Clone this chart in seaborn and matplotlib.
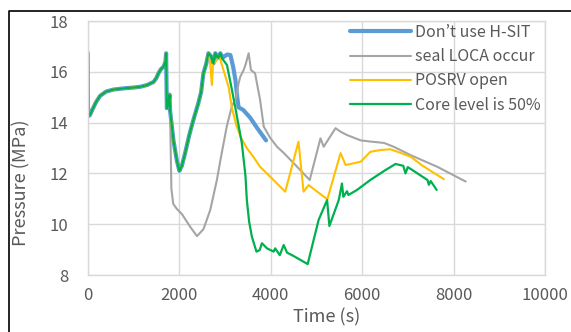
import numpy as np
import pandas as pd
import matplotlib
matplotlib.use("Agg")
import matplotlib.pyplot as plt
from matplotlib.lines import Line2D
import seaborn as sns

# Shared start-up transient (identical for every case)
common_t = [0, 5, 20, 50, 100, 180, 270, 400, 560, 800, 1000, 1150, 1300, 1440, 1500,
            1550, 1600, 1660, 1700, 1715, 1730, 1760, 1790, 1800]
common_p = [16.75, 14.6, 14.26, 14.3, 14.5, 14.8, 15.05, 15.22, 15.3, 15.35, 15.38, 15.41, 15.48, 15.6, 15.75,
            15.95, 16.1, 16.2, 16.4, 16.73, 14.57, 14.7, 15.1, 14.5]

# Re-pressurisation shared by the three non-LOCA cases
rise_t = [1875, 1950, 2005, 2060, 2130, 2220, 2310, 2420, 2480, 2530, 2590, 2640]
rise_p = [13.3, 12.5, 12.1, 12.3, 12.8, 13.5, 14.1, 14.77, 15.2, 15.94, 16.3, 16.73]

peak_t = [2700, 2750, 2790, 2830, 2860, 2900]
peak_p = [16.6, 16.33, 16.73, 16.6, 16.55, 16.73]

# Case-specific continuations
hsit_t = [2950, 3000, 3050, 3120, 3180, 3230, 3270, 3300, 3400, 3550, 3700, 3900]
hsit_p = [16.55, 16.62, 16.68, 16.66, 16.2, 15.68, 15.0, 14.6, 14.5, 14.2, 13.8, 13.3]

loca_t = [1830, 1870, 1950, 2060, 2240, 2390, 2530, 2680, 2825, 2900, 3040, 3150, 3250, 3300,
          3335, 3410, 3450, 3520, 3570, 3660, 3770, 3850, 3990, 4140, 4290, 4580, 4855, 5090,
          5160, 5420, 5530, 5670, 5970, 6200, 6480, 6690, 7060, 7645, 8265]
loca_p = [11.4, 10.8, 10.6, 10.4, 9.9, 9.53, 9.8, 10.56, 11.74, 12.5, 13.84, 14.63, 15.0, 15.55,
          15.8, 16.07, 16.27, 16.73, 16.07, 15.94, 14.89, 13.84, 13.4, 13.05, 12.8, 12.26, 11.74, 13.38,
          13.05, 13.78, 13.64, 13.51, 13.3, 13.25, 13.2, 13.05, 12.72, 12.26, 11.68]

posrv_t = [2680, 2715, 2740, 2800, 2880, 2935, 3080, 3155, 3250, 3340, 3480, 3620, 3770, 3990, 4320,
           4610, 4720, 4830, 5240, 5530, 5640, 5970, 6180, 6400, 6620, 6850, 7060, 7300, 7500, 7790]
posrv_p = [16.3, 15.48, 16.3, 16.4, 16.6, 16.27, 15.41, 14.57, 13.9, 13.45, 12.99, 12.66, 12.26, 11.87, 11.28,
           13.25, 11.28, 11.54, 10.98, 12.8, 12.33, 12.46, 12.85, 12.92, 12.95, 12.8, 12.66, 12.33, 12.1, 11.77]

core_t = [2950, 3045, 3155, 3230, 3370, 3450, 3480, 3530, 3590, 3690, 3760, 3810, 3920, 4065, 4100,
          4200, 4285, 4360, 4500, 4810, 5050, 5235, 5285, 5490, 5560, 5590, 5670, 5700, 5890, 6180, 6510,
          6730, 6900, 6950, 7000, 7430, 7460, 7500, 7630]
core_p = [16.5, 16.27, 15.28, 14.57, 13.2, 11.9, 10.95, 10.1, 9.51, 8.92, 8.98, 9.25, 9.05, 8.92, 9.05,
          8.78, 9.18, 8.88, 8.75, 8.43, 10.17, 10.95, 9.93, 10.95, 11.6, 11.08, 11.3, 11.15, 11.35, 11.74, 12.13,
          12.37, 12.3, 12.0, 12.25, 11.74, 11.55, 11.7, 11.35]

labels = ["Don\u2019t use H-SIT", "seal LOCA occur", "POSRV open", "Core level is 50%"]
colors = ["#5B9BD5", "#A5A5A5", "#FFC000", "#00B050"]
widths = [3.0, 1.5, 1.5, 1.6]

series = {
    labels[0]: (common_t + rise_t + peak_t + hsit_t, common_p + rise_p + peak_p + hsit_p),
    labels[1]: (common_t + loca_t, common_p + loca_p),
    labels[2]: (common_t + rise_t + posrv_t, common_p + rise_p + posrv_p),
    labels[3]: (common_t + rise_t + peak_t + core_t, common_p + rise_p + peak_p + core_p),
}
frames = [pd.DataFrame({"Time": t, "Pressure": p, "Case": name}) for name, (t, p) in series.items()]
df = pd.concat(frames, ignore_index=True)

sns.set_theme(style="whitegrid")
plt.rcParams["font.family"] = ["Noto Sans CJK KR", "DejaVu Sans"]
text_color = "#595959"
grid_color = "#D9D9D9"

fig = plt.figure(figsize=(5.71, 3.32), dpi=100)
ax = fig.add_axes([87.7 / 571, 1 - 275 / 332, (545 - 87.7) / 571, (275 - 21) / 332])

for name, c, w in zip(labels, colors, widths):
    sub = df[df["Case"] == name]
    sns.lineplot(data=sub, x="Time", y="Pressure", ax=ax, color=c, linewidth=w,
                 label=name, sort=False, estimator=None)

ax.set_xlim(0, 10000)
ax.set_ylim(8, 18)
ax.set_xticks(np.arange(0, 10001, 2000))
ax.set_yticks(np.arange(8, 18.1, 2))
ax.grid(True, color=grid_color, linewidth=1.0)
for s in ax.spines.values():
    s.set_color(grid_color)
    s.set_linewidth(1.0)
ax.tick_params(axis="x", colors=text_color, labelsize=12, pad=9, length=0)
ax.tick_params(axis="y", colors=text_color, labelsize=12, pad=14, length=0)

ax.set_xlabel("Time (s)", color=text_color, fontsize=13)
ax.set_ylabel("Pressure (MPa)", color=text_color, fontsize=13)
ax.xaxis.set_label_coords(0.5226, -33 / 254, transform=ax.transAxes)
ax.yaxis.set_label_coords(-0.125, 0.364, transform=ax.transAxes)

leg = ax.legend(loc="upper left", bbox_to_anchor=(350 / 571, 1 - 24 / 332),
                bbox_transform=fig.transFigure, frameon=False, fontsize=11.5,
                handlelength=3.8, handletextpad=0.3, labelspacing=0.45,
                borderpad=0, borderaxespad=0)
for t in leg.get_texts():
    t.set_color(text_color)

# Outer frame edges of the chart object
fig.add_artist(Line2D([9 / 571, 9 / 571, 1.0], [0.0, 1 - 10.5 / 332, 1 - 10.5 / 332],
                      transform=fig.transFigure, color="black", linewidth=1.2))

fig.savefig("out.png", dpi=100)
